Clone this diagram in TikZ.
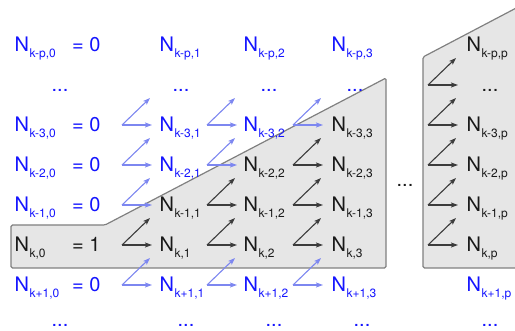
\documentclass[tikz,border=0pt]{standalone}
\usepackage{fontspec}
\setmainfont{TeX Gyre Heros}
\usetikzlibrary{arrows.meta}
\definecolor{nblue}{RGB}{20,20,255}
\definecolor{ablue}{RGB}{125,135,240}
\definecolor{adark}{RGB}{60,60,60}
\definecolor{tdark}{RGB}{25,25,25}
\definecolor{rfill}{RGB}{230,230,230}
\definecolor{rline}{RGB}{128,128,128}
\newcommand\Nsub[1]{N\kern0.5pt\raisebox{-5.5pt}{\fontsize{12}{12}\selectfont #1}}
\newcommand\arrpair[4]{%
  \coordinate (#1v) at (#2,#3);
  \coordinate (#1h) at (#2+30,#3);
  \coordinate (#1d) at (#2+28,#3-27);
  \draw[arr,#4] (#1v) -- (#1h);
  \draw[arr,#4] (#1v) -- (#1d);
}
\begin{document}
\begin{tikzpicture}[x=1pt,y=-1pt,
  lbl/.style={anchor=base west,inner sep=0pt,font=\fontsize{20}{24}\selectfont},
  dotsl/.style={anchor=base,inner sep=0pt,font=\fontsize{20}{24}\selectfont},
  region/.style={fill=rfill,draw=rline,line width=1.2pt,rounded corners=1.5pt},
  arr/.style={line width=1.1pt,-{Stealth[length=7pt,width=5pt,inset=1.5pt]}},
  ]
\clip (0,0) rectangle (515,331);
\draw[region] (11,225) -- (105,225) -- (386,78) -- (386,268) -- (11,268) -- cycle;
\draw[region] (423,57) -- (560,-15) -- (560,268) -- (423,268) -- cycle;

% arrows col0 -> col1
\arrpair{a1r3}{122}{125}{ablue}
\arrpair{a1r2}{122}{165}{ablue}
\arrpair{a1r1}{122}{205}{ablue}
\arrpair{a1r0}{122}{245}{adark}
\arrpair{a1rm}{122}{285}{ablue}
% col1 -> col2
\arrpair{a2r3}{207}{125}{ablue}
\arrpair{a2r2}{207}{165}{ablue}
\arrpair{a2r1}{207}{205}{adark}
\arrpair{a2r0}{207}{245}{adark}
\arrpair{a2rm}{207}{285}{ablue}
% col2 -> col3
\arrpair{a3r3}{293}{125}{ablue}
\arrpair{a3r2}{293}{165}{adark}
\arrpair{a3r1}{293}{205}{adark}
\arrpair{a3r0}{293}{245}{adark}
\arrpair{a3rm}{293}{285}{ablue}
% col p
\arrpair{apr4}{428}{85}{adark}
\arrpair{apr3}{428}{125}{adark}
\arrpair{apr2}{428}{165}{adark}
\arrpair{apr1}{428}{205}{adark}
\arrpair{apr0}{428}{245}{adark}

% column 0
\node[lbl,nblue] (n0p) at (14.5,52) {\Nsub{k-p,0}};
\node[lbl,nblue] (e0p) at (72,52) {= 0};
\node[dotsl,nblue] (d0t) at (60,91.5) {...};
\node[lbl,nblue] (n03) at (14.5,132) {\Nsub{k-3,0}};
\node[lbl,nblue] (e03) at (72,132) {= 0};
\node[lbl,nblue] (n02) at (14.5,172) {\Nsub{k-2,0}};
\node[lbl,nblue] (e02) at (72,172) {= 0};
\node[lbl,nblue] (n01) at (14.5,212) {\Nsub{k-1,0}};
\node[lbl,nblue] (e01) at (72,212) {= 0};
\node[lbl,tdark] (n00) at (14.5,252) {\Nsub{k,0}};
\node[lbl,tdark] (e00) at (72,252) {= 1};
\node[lbl,nblue] (n0m) at (14.5,292) {\Nsub{k+1,0}};
\node[lbl,nblue] (e0m) at (72,292) {= 0};
\node[dotsl,nblue] (d0b) at (60,326.5) {...};

% column 1
\node[lbl,nblue] (n1p) at (159.5,52) {\Nsub{k-p,1}};
\node[dotsl,nblue] (d1t) at (181,91.5) {...};
\node[lbl,nblue] (n13) at (159.5,132) {\Nsub{k-3,1}};
\node[lbl,nblue] (n12) at (159.5,172) {\Nsub{k-2,1}};
\node[lbl,tdark] (n11) at (159.5,212) {\Nsub{k-1,1}};
\node[lbl,tdark] (n10) at (159.5,252) {\Nsub{k,1}};
\node[lbl,nblue] (n1m) at (159.5,292) {\Nsub{k+1,1}};
\node[dotsl,nblue] (d1b) at (186,326.5) {...};

% column 2
\node[lbl,nblue] (n2p) at (243.5,52) {\Nsub{k-p,2}};
\node[dotsl,nblue] (d2t) at (269,91.5) {...};
\node[lbl,nblue] (n23) at (243.5,132) {\Nsub{k-3,2}};
\node[lbl,tdark] (n22) at (243.5,172) {\Nsub{k-2,2}};
\node[lbl,tdark] (n21) at (243.5,212) {\Nsub{k-1,2}};
\node[lbl,tdark] (n20) at (243.5,252) {\Nsub{k,2}};
\node[lbl,nblue] (n2m) at (243.5,292) {\Nsub{k+1,2}};
\node[dotsl,nblue] (d2b) at (274,326.5) {...};

% column 3
\node[lbl,nblue] (n3p) at (331.5,52) {\Nsub{k-p,3}};
\node[dotsl,nblue] (d3t) at (355,91.5) {...};
\node[lbl,tdark] (n33) at (331.5,132) {\Nsub{k-3,3}};
\node[lbl,tdark] (n32) at (331.5,172) {\Nsub{k-2,3}};
\node[lbl,tdark] (n31) at (331.5,212) {\Nsub{k-1,3}};
\node[lbl,tdark] (n30) at (331.5,252) {\Nsub{k,3}};
\node[lbl,nblue] (n3m) at (331.5,292) {\Nsub{k+1,3}};
\node[dotsl,nblue] (d3b) at (362,326.5) {...};

% middle dots
\node[dotsl,tdark] (dmid) at (405,186.5) {...};

% column p
\node[lbl,tdark] (npp) at (466.5,52) {\Nsub{k-p,p}};
\node[dotsl,tdark] (dpt) at (490,91.5) {...};
\node[lbl,tdark] (np3) at (466.5,132) {\Nsub{k-3,p}};
\node[lbl,tdark] (np2) at (466.5,172) {\Nsub{k-2,p}};
\node[lbl,tdark] (np1) at (466.5,212) {\Nsub{k-1,p}};
\node[lbl,tdark] (np0) at (466.5,252) {\Nsub{k,p}};
\node[lbl,nblue] (npm) at (466.5,292) {\Nsub{k+1,p}};
\node[dotsl,nblue] (dpb) at (490,326.5) {...};
\end{tikzpicture}
\end{document}
